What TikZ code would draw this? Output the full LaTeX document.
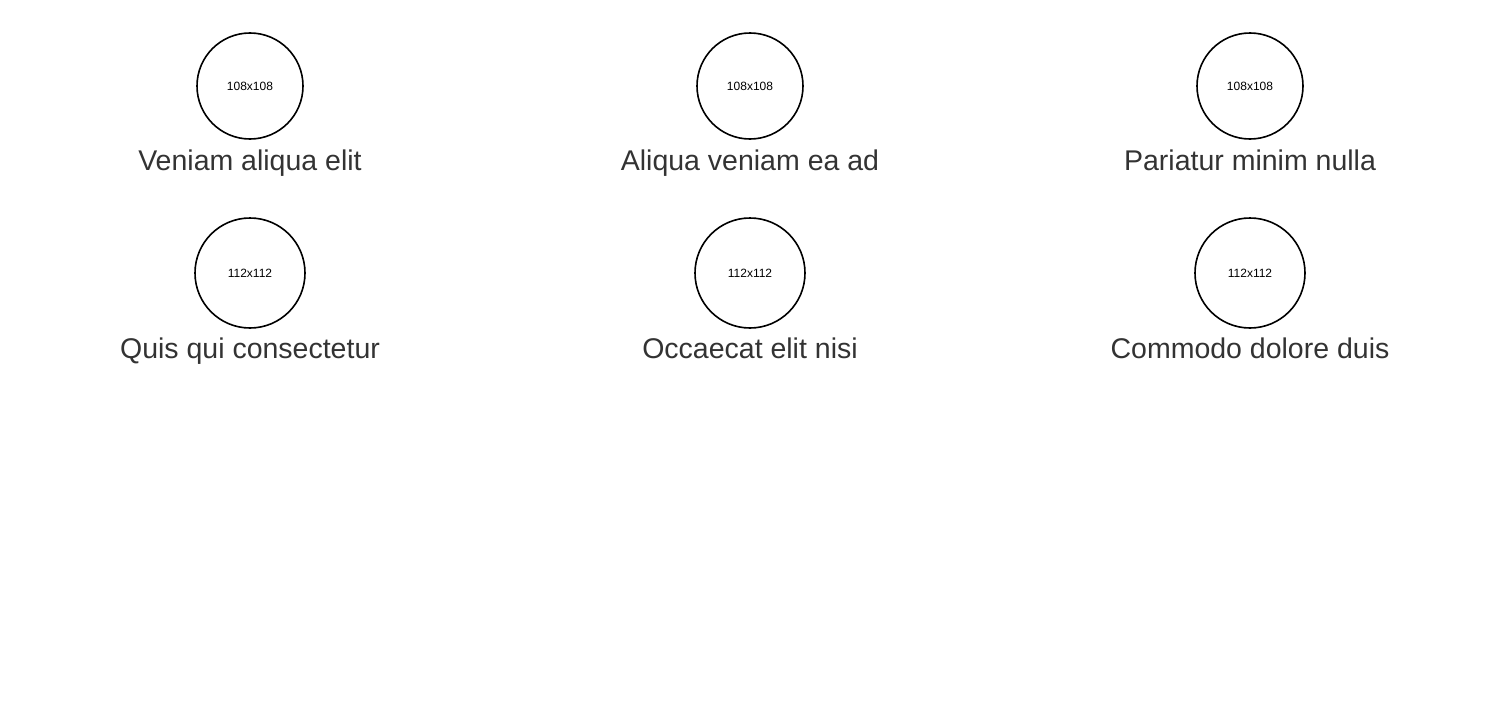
\documentclass[tikz,border=0pt]{standalone}
\usepackage{fontspec}
\setmainfont{Liberation Sans}
\definecolor{captext}{HTML}{333333}

\begin{document}
\begin{tikzpicture}[x=1pt, y=-1pt, avatar/.style={circle, draw, line width=1.6pt, inner sep=0pt, font=\fontsize{12}{14}\selectfont}, caption/.style={anchor=base, text=captext, inner sep=0pt, font=\fontsize{28.5}{32}\selectfont}]

  \useasboundingbox (0,0) rectangle (1500,720);

  \node[avatar, minimum size=106pt] (img1) at (250,86) {108x108};
  \node[avatar, minimum size=106pt] (img2) at (750,86) {108x108};
  \node[avatar, minimum size=106pt] (img3) at (1250,86) {108x108};
  \node[caption] (cap1) at (250,170) {Veniam aliqua elit};
  \node[caption] (cap2) at (750,170) {Aliqua veniam ea ad};
  \node[caption] (cap3) at (1250,170) {Pariatur minim nulla};

  \node[avatar, minimum size=110pt] (img4) at (250,273) {112x112};
  \node[avatar, minimum size=110pt] (img5) at (750,273) {112x112};
  \node[avatar, minimum size=110pt] (img6) at (1250,273) {112x112};
  \node[caption] (cap4) at (250,358) {Quis qui consectetur};
  \node[caption] (cap5) at (750,358) {Occaecat elit nisi};
  \node[caption] (cap6) at (1250,358) {Commodo dolore duis};

\end{tikzpicture}
\end{document}
